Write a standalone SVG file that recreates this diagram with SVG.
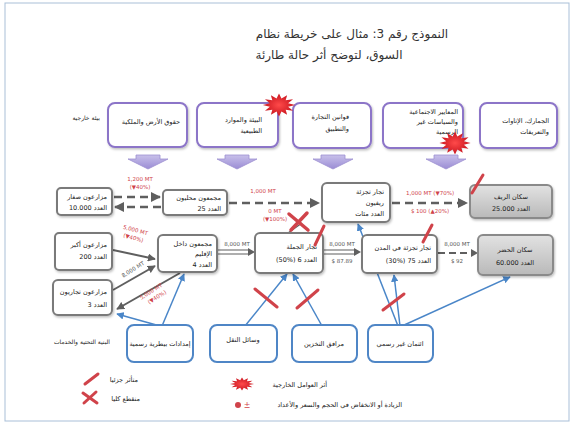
<svg xmlns="http://www.w3.org/2000/svg" width="576" height="423" viewBox="0 0 576 423">
<style>
text{font-family:"DejaVu Sans","Noto Sans",sans-serif;}
.ar{direction:rtl;text-anchor:start;font-size:6.5px;fill:#222;}
.arc{direction:rtl;text-anchor:middle;font-size:6.5px;fill:#222;}
.title{direction:rtl;text-anchor:middle;font-size:12px;fill:#333;}
.lbl{font-size:5.5px;text-anchor:middle;fill:#555;}
.red{font-size:5.5px;text-anchor:middle;fill:#d0434a;}
.actor{fill:#fff;stroke:#7a7a7a;stroke-width:2;}
.pop{fill:url(#gGray);stroke:#8a8a8a;stroke-width:2;}
.env{fill:#fff;stroke:#8c74c8;stroke-width:2;}
.inf{fill:#fff;stroke:#4f86c6;stroke-width:2;}
.flow{fill:none;stroke:#5f5f5f;stroke-width:2;}
.dash{fill:none;stroke:#5f5f5f;stroke-width:2.5;stroke-dasharray:8 5;}
.thin{fill:none;stroke:#5f5f5f;stroke-width:1.2;}
.blue{fill:none;stroke:#4a86c8;stroke-width:1.5;}
.cut{fill:none;stroke:#d0434a;stroke-width:3;stroke-linecap:round;}
.parr{fill:url(#gPurple);stroke:#9d8fd0;stroke-width:0.8;}
</style>
<defs>
<linearGradient id="gGray" x1="0" y1="0" x2="0" y2="1"><stop offset="0" stop-color="#e2e2e2"/><stop offset="1" stop-color="#b9b9b9"/></linearGradient>
<linearGradient id="gPurple" x1="0" y1="0" x2="0" y2="1"><stop offset="0" stop-color="#c8c0ea"/><stop offset="1" stop-color="#9a8cd4"/></linearGradient>
<radialGradient id="gRed"><stop offset="0" stop-color="#ff4a4a"/><stop offset="1" stop-color="#c8141e"/></radialGradient>
<filter id="sh" x="-10%" y="-10%" width="130%" height="140%"><feDropShadow dx="1" dy="1.5" stdDeviation="1" flood-color="#000" flood-opacity="0.25"/></filter>
<marker id="ag" viewBox="0 0 10 10" refX="9" refY="5" markerWidth="4" markerHeight="4" orient="auto" markerUnits="strokeWidth"><path d="M0,0 L10,5 L0,10 z" fill="#5f5f5f"/></marker>
<marker id="ab" viewBox="0 0 10 10" refX="9" refY="5" markerWidth="5" markerHeight="5" orient="auto" markerUnits="strokeWidth"><path d="M0,0 L10,5 L0,10 z" fill="#4a86c8"/></marker>
<polygon id="burst" points="12,0 6.76,1.81 10.39,6 4.95,4.95 6,10.39 1.81,6.76 0,12 -1.81,6.76 -6,10.39 -4.95,4.95 -10.39,6 -6.76,1.81 -12,0 -6.76,-1.81 -10.39,-6 -4.95,-4.95 -6,-10.39 -1.81,-6.76 0,-12 1.81,-6.76 6,-10.39 4.95,-4.95 10.39,-6 6.76,-1.81" fill="url(#gRed)"/>
<polygon id="parrow" points="-12,0 12,0 12,4 20,4 0,14 -20,4 -12,4"/>
</defs>

<rect x="0" y="0" width="576" height="423" fill="#fff"/>
<rect x="5" y="3" width="564" height="418" fill="none" stroke="#a9bfd8" stroke-width="1"/>

<!-- title -->
<text class="title" x="352" y="38">النموذج رقم 3: مثال على خريطة نظام</text>
<text class="title" x="329" y="59">السوق، لتوضح أثر حالة طارئة</text>

<!-- side labels -->
<text class="ar" x="100" y="120" style="font-size:6px">بيئة خارجية</text>
<text class="ar" x="110" y="344" style="font-size:6px">البنية التحتية والخدمات</text>

<!-- connectors -->
<g id="connectors">
  <path class="blue" d="M160 326 L117 314" marker-end="url(#ab)"/>
  <path class="blue" d="M162 326 L184 274" marker-end="url(#ab)"/>
  <path class="blue" d="M245 326 L287 274" marker-end="url(#ab)"/>
  <path class="blue" d="M322 326 L293 274" marker-end="url(#ab)"/>
  <path class="blue" d="M398 326 L358 224" marker-end="url(#ab)"/>
  <path class="blue" d="M400 326 L394 275" marker-end="url(#ab)"/>
  <path class="blue" d="M402 326 L510 277" marker-end="url(#ab)"/>

  <path class="dash" d="M114 197 H160" marker-end="url(#ag)"/>
  <path class="dash" d="M161 207 H115" marker-end="url(#ag)"/>
  <path class="dash" d="M229 203 H319" marker-end="url(#ag)"/>
  <path class="dash" d="M392 203 H467" marker-end="url(#ag)"/>
  <path class="flow" d="M113 250 L155 259" marker-end="url(#ag)"/>
  <path class="thin" d="M218 250 H249 M218 254 H249"/>
  <polygon points="248,248 255,252 248,256" fill="#5f5f5f"/>
  <path class="thin" d="M324 250 H355 M324 254 H355"/>
  <polygon points="354,248 361,252 354,256" fill="#5f5f5f"/>
  <path class="dash" d="M438 253 H475" style="stroke-dasharray:7 4;stroke-width:2"/>
  <polygon points="471,249 478,253 471,257" fill="#5f5f5f"/>
  <path class="flow" d="M113 290 L155 266" marker-end="url(#ag)"/>
  <path class="flow" d="M180 273 L117 309" marker-end="url(#ag)"/>
  <path class="thin" d="M288 233 L302 223"/>

  <text class="red" x="140" y="181">1,200 MT</text>
  <text class="red" x="140" y="189">(▼40%)</text>
  <text class="red" x="263" y="193">1,000 MT</text>
  <text class="red" x="430" y="195">1,000 MT (▼70%)</text>
  <text class="red" x="430" y="213">$ 100 (▲20%)</text>
  <text class="red" x="275" y="213">0 MT</text>
  <text class="red" x="275" y="221">(▼100%)</text>
  <g transform="translate(135,232) rotate(15)"><text class="red" x="0" y="0">5,000 MT</text><text class="red" x="0" y="8">(▼40%)</text></g>
  <text class="lbl" x="237" y="246">8,000 MT</text>
  <text class="lbl" x="342" y="246">8,000 MT</text>
  <text class="lbl" x="342" y="263">$ 87.89</text>
  <text class="lbl" x="457" y="246">8,000 MT</text>
  <text class="lbl" x="457" y="263">$ 92</text>
  <g transform="translate(134,271) rotate(-32)"><text class="lbl" x="0" y="0">8,000 MT</text></g>
  <g transform="translate(152,293) rotate(-32)"><text class="red" x="0" y="0">5,000 MT</text><text class="red" x="2" y="8">(▼40%)</text></g>
</g>

<!-- external environment -->
<g id="env1"><rect class="env" x="108" y="103" width="79" height="44" rx="7" filter="url(#sh)"/><text class="ar" x="180" y="124">حقوق الأرض والملكية</text></g>
<g id="env2"><rect class="env" x="197" y="103" width="81" height="44" rx="7" filter="url(#sh)"/><text class="ar" x="262" y="122">البيئة والموارد</text><text class="ar" x="262" y="133">الطبيعية</text></g>
<g id="env3"><rect class="env" x="293" y="103" width="78" height="45" rx="7" filter="url(#sh)"/><text class="ar" x="349" y="119">قوانين التجارة</text><text class="ar" x="349" y="131">والتطبيق</text></g>
<g id="env4"><rect class="env" x="383" y="103" width="80" height="45" rx="7" filter="url(#sh)"/><text class="ar" x="458" y="114">المعايير الاجتماعية</text><text class="ar" x="458" y="124">والسياسات غير</text><text class="ar" x="458" y="134">الرسمية</text></g>
<g id="env5"><rect class="env" x="480" y="103" width="77" height="45" rx="7" filter="url(#sh)"/><text class="ar" x="549" y="123">الجمارك، الإتاوات</text><text class="ar" x="549" y="134">والتعريفات</text></g>

<use href="#burst" transform="translate(279,105) scale(1.35,0.95)"/>
<use href="#burst" transform="translate(455,143) scale(1.3,0.95)"/>

<g id="env-arrows">
  <use href="#parrow" class="parr" transform="translate(148,155)"/>
  <use href="#parrow" class="parr" transform="translate(237,155)"/>
  <use href="#parrow" class="parr" transform="translate(333,155)"/>
  <use href="#parrow" class="parr" transform="translate(446,155)"/>
</g>

<!-- market actors -->
<g id="smallholders"><rect class="actor" x="57" y="188" width="55" height="27" rx="4" filter="url(#sh)"/><text class="ar" x="107" y="199">مزارعون صغار</text><text class="ar" x="107" y="210">العدد 10.000</text></g>
<g id="local-collectors"><rect class="actor" x="163" y="190" width="64" height="25" rx="4" filter="url(#sh)"/><text class="ar" x="221" y="200">مجمعون محليون</text><text class="ar" x="221" y="211">العدد 25</text></g>
<g id="rural-retailers"><rect class="actor" x="322" y="183" width="68" height="39" rx="5" filter="url(#sh)"/><text class="ar" x="384" y="194">تجار تجزئة</text><text class="ar" x="384" y="205">ريفيون</text><text class="ar" x="384" y="216">العدد مئات</text></g>
<g id="rural-pop"><rect class="pop" x="470" y="185" width="82" height="33" rx="5" filter="url(#sh)"/><text class="arc" x="511" y="199">سكان الريف</text><text class="arc" x="511" y="211">العدد 25.000</text></g>

<g id="larger-farmers"><rect class="actor" x="55" y="233" width="57" height="37" rx="4" filter="url(#sh)"/><text class="ar" x="107" y="247">مزارعون أكبر</text><text class="ar" x="107" y="259">العدد 200</text></g>
<g id="regional-collectors"><rect class="actor" x="158" y="235" width="59" height="37" rx="5" filter="url(#sh)"/><text class="ar" x="212" y="246">مجمعون داخل</text><text class="ar" x="212" y="256">الإقليم</text><text class="ar" x="212" y="267">العدد 4</text></g>
<g id="wholesalers"><rect class="actor" x="255" y="233" width="68" height="40" rx="5" filter="url(#sh)"/><text class="ar" x="317" y="249">تجار الجملة</text><text class="ar" x="317" y="262">العدد 6 (%50)</text></g>
<g id="urban-retailers"><rect class="actor" x="362" y="235" width="75" height="38" rx="5" filter="url(#sh)"/><text class="ar" x="431" y="250">تجار تجزئة في المدن</text><text class="ar" x="431" y="263">العدد 75 (%30)</text></g>
<g id="urban-pop"><rect class="pop" x="478" y="235" width="75" height="40" rx="5" filter="url(#sh)"/><text class="arc" x="515" y="252">سكان الحضر</text><text class="arc" x="515" y="265">العدد 60.000</text></g>
<g id="commercial-farmers"><rect class="actor" x="53" y="280" width="59" height="35" rx="5" filter="url(#sh)"/><text class="ar" x="107" y="294">مزارعون تجاريون</text><text class="ar" x="107" y="307">العدد 3</text></g>

<!-- infrastructure and services -->
<g id="vet"><rect class="inf" x="127" y="325" width="66" height="37" rx="7"/><text class="arc" x="160" y="346">إمدادات بيطرية رسمية</text></g>
<g id="transport"><rect class="inf" x="210" y="325" width="67" height="37" rx="7"/><text class="arc" x="243" y="342">وسائل النقل</text></g>
<g id="storage"><rect class="inf" x="292" y="325" width="65" height="37" rx="7"/><text class="arc" x="324" y="346">مرافق التخزين</text></g>
<g id="credit"><rect class="inf" x="368" y="325" width="65" height="37" rx="7"/><text class="arc" x="400" y="346">ائتمان غير رسمي</text></g>

<!-- disruption marks -->
<g id="marks">
  <path class="cut" d="M472 193 L483 175"/>
  <path class="cut" d="M315 245 L324 226"/>
  <path class="cut" d="M423 242 L432 225"/>
  <path class="cut" d="M255 289 L277 307"/>
  <path class="cut" d="M297 308 L318 290"/>
  <path class="cut" d="M383 310 L404 294"/>
  <path class="cut" d="M289 214 L308 230 M291 230 L307 213" style="stroke-width:3.5"/>
</g>

<!-- legend -->
<g id="legend">
  <path class="cut" d="M85 384 L98 374"/>
  <text class="ar" x="138" y="382">متأثر جزئيا</text>
  <path class="cut" d="M83 393 L97 403 M84 403 L96 392"/>
  <text class="ar" x="140" y="401">منقطع كليا</text>
  <use href="#burst" transform="translate(242,384) scale(1.0,0.55)"/>
  <text class="ar" x="327" y="387">أثر العوامل الخارجية</text>
  <circle cx="238" cy="405" r="3" fill="#d0434a"/>
  <text x="247" y="408" style="font-size:8px;fill:#d0434a;text-anchor:middle">±</text>
  <text class="ar" x="402" y="407">الزيادة أو الانخفاض في الحجم والسعر والأعداد</text>
</g>
</svg>
